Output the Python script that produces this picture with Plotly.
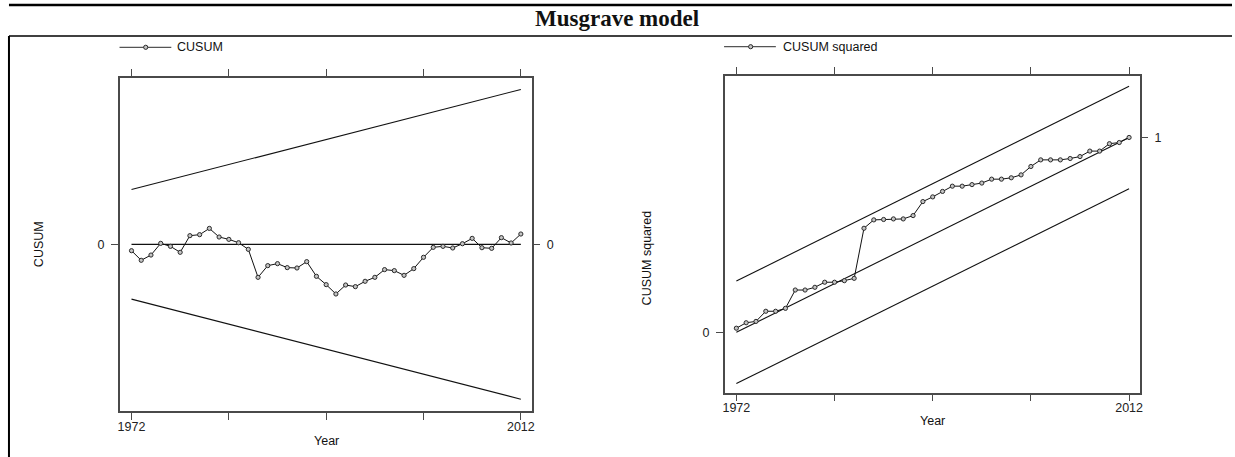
import plotly.graph_objects as go

# ---------------- data ----------------
years = list(range(1972, 2013))

cusum = [-0.70, -1.76, -1.18, 0.11, -0.22, -0.88, 0.96, 1.07, 1.76, 0.81,
         0.55, 0.18, -0.55, -3.64, -2.35, -2.13, -2.57, -2.61, -1.91, -3.53,
         -4.45, -5.48, -4.49, -4.67, -4.08, -3.64, -2.79, -2.90, -3.42, -2.68,
         -1.43, -0.33, -0.22, -0.40, 0.07, 0.66, -0.37, -0.44, 0.74, 0.15, 1.14]

bound_years = [1972, 2012]
cusum_upper = [6.05, 17.1]
cusum_lower = [-6.05, -17.1]
cusum_zero = [0, 0]

cusumsq = [0.021, 0.049, 0.056, 0.108, 0.108, 0.123, 0.217, 0.217, 0.231, 0.257,
           0.257, 0.265, 0.277, 0.534, 0.577, 0.579, 0.582, 0.582, 0.599, 0.671,
           0.695, 0.723, 0.750, 0.750, 0.758, 0.766, 0.786, 0.786, 0.793, 0.808,
           0.851, 0.885, 0.885, 0.885, 0.892, 0.902, 0.930, 0.930, 0.968, 0.974, 1.0]

sq_upper = [0.263, 1.263]
sq_mid = [0.0, 1.0]
sq_lower = [-0.263, 0.737]

year_ticks = [1972, 1982, 1992, 2002, 2012]
year_ticktext = ["1972", "", "", "", "2012"]

# ---------------- helpers ----------------
W, H = 1235, 457
def px(x):
    return x / W
def py(y):
    return 1 - y / H

FONT = "Liberation Sans, Arial, sans-serif"
FRAME = "#4a4a4a"
LINE = "#111111"

fig = go.Figure()

def bound(x, y, xa, ya):
    fig.add_trace(go.Scatter(x=x, y=y, mode="lines", xaxis=xa, yaxis=ya,
                             line=dict(color=LINE, width=1.1),
                             showlegend=False, hoverinfo="skip"))

marker = dict(symbol="circle", size=4.2, color="#c4c4c4",
              line=dict(color="#2a2a2a", width=1))

# left panel
bound(bound_years, cusum_upper, "x", "y")
bound(bound_years, cusum_lower, "x", "y")
bound(bound_years, cusum_zero, "x", "y")
fig.add_trace(go.Scatter(x=years, y=cusum, mode="lines+markers", name="CUSUM",
                         xaxis="x", yaxis="y", line=dict(color=LINE, width=1),
                         marker=marker, showlegend=False))

# right panel
bound(bound_years, sq_upper, "x2", "y2")
bound(bound_years, sq_mid, "x2", "y2")
bound(bound_years, sq_lower, "x2", "y2")
fig.add_trace(go.Scatter(x=years, y=cusumsq, mode="lines+markers", name="CUSUM squared",
                         xaxis="x2", yaxis="y2", line=dict(color=LINE, width=1),
                         marker=marker, showlegend=False))

tickfont = dict(family=FONT, size=12.5, color="#222222")

def xaxis(domain, rng, anchor):
    return dict(domain=domain, range=rng, anchor=anchor,
                tickvals=year_ticks, ticktext=year_ticktext,
                ticks="outside", ticklen=7, tickwidth=1.2, tickcolor=FRAME,
                showline=True, linecolor=FRAME, linewidth=1.5, mirror="ticks",
                showgrid=False, zeroline=False, tickfont=tickfont,
                ticklabelstandoff=-4, fixedrange=True)

def yaxis(domain, rng, anchor, vals):
    return dict(domain=domain, range=rng, anchor=anchor,
                tickvals=vals, ticktext=[str(v) for v in vals],
                ticks="outside", ticklen=7, tickwidth=1.2, tickcolor=FRAME,
                showline=True, linecolor=FRAME, linewidth=1.5, mirror=True,
                showgrid=False, zeroline=False, tickfont=tickfont,
                ticklabelstandoff=4, fixedrange=True)

def yover(over, rng, anchor, vals):
    return dict(overlaying=over, side="right", range=rng, anchor=anchor,
                tickvals=vals, ticktext=[str(v) for v in vals],
                ticks="outside", ticklen=7, tickwidth=1.2, tickcolor=FRAME,
                showline=False, showgrid=False, zeroline=False,
                tickfont=tickfont, ticklabelstandoff=4, fixedrange=True)

ly = [-18.4, 18.4]
ry = [-0.310, 1.317]

fig.update_layout(
    width=W, height=H,
    margin=dict(l=0, r=0, t=0, b=0),
    paper_bgcolor="white", plot_bgcolor="white",
    showlegend=False,
    xaxis=xaxis([px(118.3), px(532.3)], [1970.80, 2013.16], "y"),
    yaxis=yaxis([py(411), py(77.7)], ly, "x", [0]),
    yaxis3=yover("y", ly, "x", [0]),
    xaxis2=xaxis([px(725.7), px(1142.7)], [1970.82, 2013.12], "y2"),
    yaxis2=yaxis([py(392.7), py(75.7)], ry, "x2", [0]),
    yaxis4=yover("y2", ry, "x2", [1]),
)

# dummy traces to attach overlay axes
fig.add_trace(go.Scatter(x=[None], y=[None], xaxis="x", yaxis="y3",
                         showlegend=False, hoverinfo="skip"))
fig.add_trace(go.Scatter(x=[None], y=[None], xaxis="x2", yaxis="y4",
                         showlegend=False, hoverinfo="skip"))

shapes = []
# table / page borders
shapes.append(dict(type="line", xref="paper", yref="paper",
                   x0=px(7), x1=px(1235), y0=py(5), y1=py(5),
                   line=dict(color="black", width=2.5)))
shapes.append(dict(type="line", xref="paper", yref="paper",
                   x0=px(7), x1=px(1235), y0=py(36), y1=py(36),
                   line=dict(color="black", width=1.5)))
shapes.append(dict(type="line", xref="paper", yref="paper",
                   x0=px(7), x1=px(7), y0=py(36), y1=py(457),
                   line=dict(color="black", width=2)))

# custom legends
def legend(x0, x1, y, xm):
    shapes.append(dict(type="line", xref="paper", yref="paper",
                       x0=px(x0), x1=px(x1), y0=py(y), y1=py(y),
                       line=dict(color="#555555", width=1.2)))
    shapes.append(dict(type="circle", xref="paper", yref="paper",
                       x0=px(xm - 2.1), x1=px(xm + 2.1),
                       y0=py(y + 2.1), y1=py(y - 2.1),
                       fillcolor="#c4c4c4", line=dict(color="#2a2a2a", width=1)))

legend(118, 170, 47.3, 144.3)
legend(725, 777, 46.7, 751.7)

fig.update_layout(shapes=shapes)

def text(t, x, y, size=12.5, angle=0, xanchor="center", fam=FONT, bold=False):
    fig.add_annotation(text=("<b>%s</b>" % t) if bold else t,
                       xref="paper", yref="paper", x=px(x), y=py(y),
                       xanchor=xanchor, yanchor="middle", showarrow=False,
                       textangle=angle,
                       font=dict(family=fam, size=size, color="#111111"))

text("Musgrave model", 617, 18.5, size=23, fam="Liberation Serif, Times New Roman, serif", bold=True)
text("CUSUM", 173.3, 47.3, size=12.5, xanchor="left")
text("CUSUM squared", 781.7, 46.7, size=12.5, xanchor="left")
text("CUSUM", 37, 244.3, angle=-90)
text("CUSUM squared", 648, 258, angle=-90)
text("Year", 326, 440.7)
text("Year", 934.3, 420.7)

fig.write_html("out.html",
               config={"displayModeBar": False},
               post_script="document.body.style.margin='0px';document.body.style.overflow='hidden';")
